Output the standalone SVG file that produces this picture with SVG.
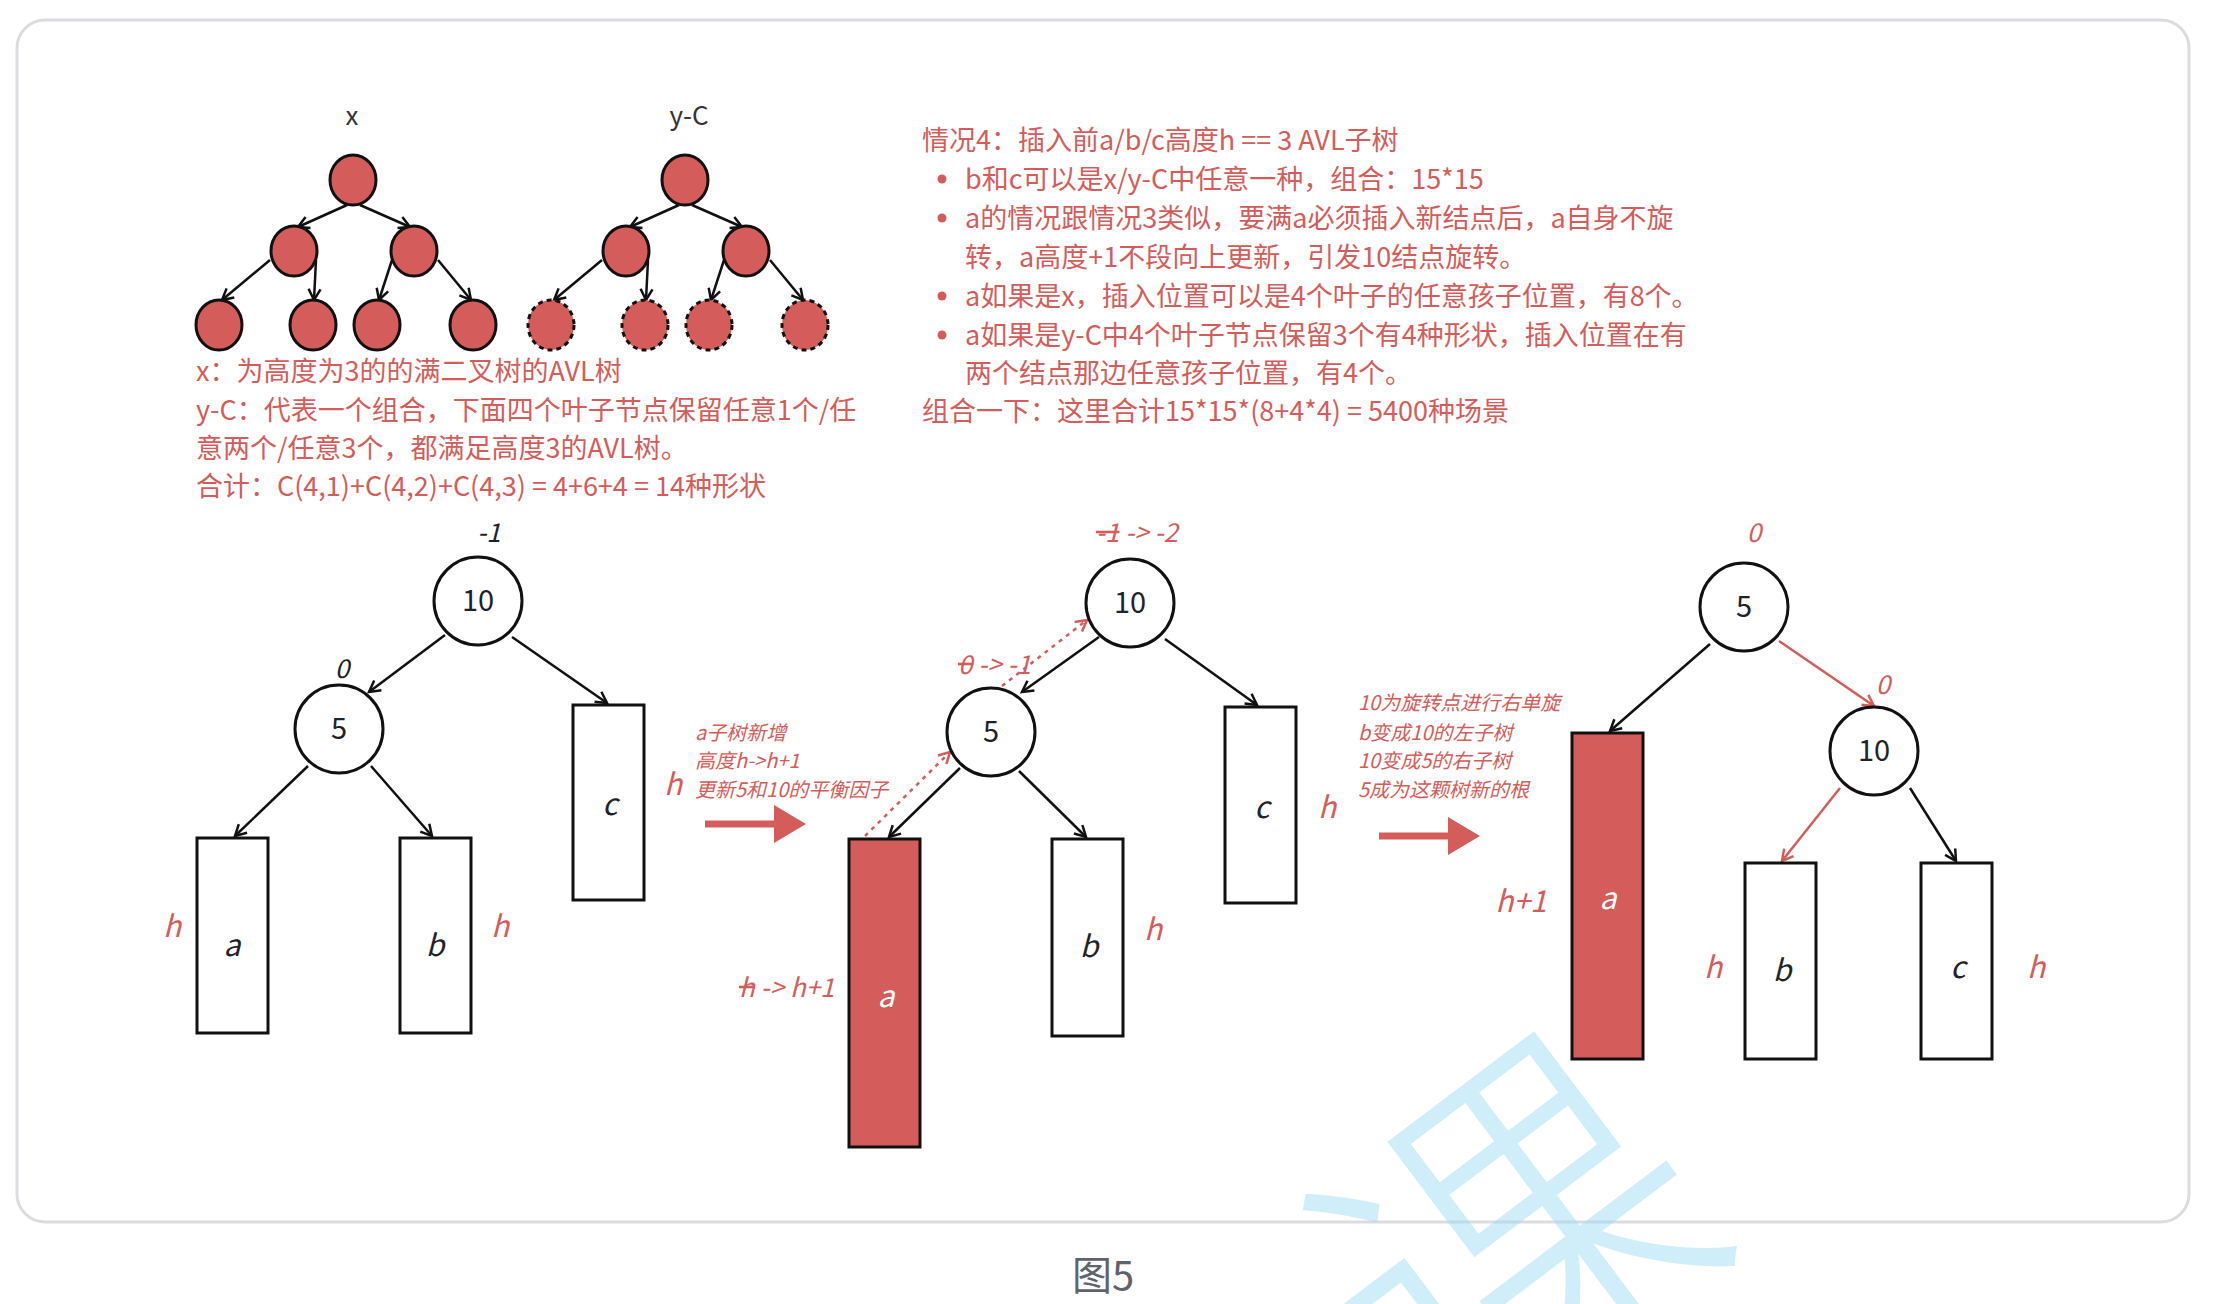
<svg xmlns="http://www.w3.org/2000/svg" width="2223" height="1304" viewBox="0 0 2223 1304">
<defs>
<style>
.t{font-family:"Noto Sans CJK SC","Noto Sans",sans-serif}
.red{fill:#d45c5a}
.dark{fill:#1f2329}
.para{font-size:27px}
.ann{font-size:20px;font-style:italic}
.lbl{font-size:30px;font-style:italic}
.num{font-size:29px}
.bf{font-size:26px;font-style:italic}
.node{fill:#fff;stroke:#111;stroke-width:3}
.leaf{fill:#d45c5a;stroke:#111;stroke-width:3}
.dleaf{fill:#d45c5a;stroke:#111;stroke-width:3;stroke-dasharray:5 4}
.box{fill:#fff;stroke:#111;stroke-width:3}
.rbox{fill:#d45c5a;stroke:#111;stroke-width:3}
.e{fill:none;stroke:#111;stroke-width:2.5;marker-end:url(#ah)}
.er{fill:none;stroke:#d45c5a;stroke-width:2.5;marker-end:url(#ahr)}
.ed{fill:none;stroke:#d45c5a;stroke-width:2.5;stroke-dasharray:4 5;marker-end:url(#ahr)}
.big{stroke:#d45c5a;stroke-width:7;fill:none}
</style>
<marker id="ah" markerUnits="userSpaceOnUse" markerWidth="16" markerHeight="16" refX="13" refY="8" orient="auto">
<path d="M2,2 L13,8 L2,14" fill="none" stroke="#111" stroke-width="2.5"/>
</marker>
<marker id="ahr" markerUnits="userSpaceOnUse" markerWidth="16" markerHeight="16" refX="13" refY="8" orient="auto">
<path d="M2,2 L13,8 L2,14" fill="none" stroke="#d45c5a" stroke-width="2.5"/>
</marker>
</defs>
<rect width="2223" height="1304" fill="#fff"/>
<rect x="17" y="20" width="2172" height="1202" rx="28" fill="#fff" stroke="#dcdce0" stroke-width="3"/>

<!-- top labels -->
<text class="t" x="352" y="125" font-size="26" fill="#333" text-anchor="middle">x</text>
<text class="t" x="689" y="125" font-size="26" fill="#333" text-anchor="middle">y-C</text>

<!-- connectors -->
<g id="connectors">
<line class="e" x1="347" y1="205" x2="298" y2="227"/>
<line class="e" x1="360" y1="205" x2="410" y2="227"/>
<line class="e" x1="270" y1="260" x2="222" y2="300"/>
<line class="e" x1="316" y1="260" x2="314" y2="300"/>
<line class="e" x1="392" y1="260" x2="379" y2="300"/>
<line class="e" x1="438" y1="260" x2="471" y2="300"/>
<line class="e" x1="679" y1="205" x2="630" y2="227"/>
<line class="e" x1="692" y1="205" x2="742" y2="227"/>
<line class="e" x1="602" y1="260" x2="554" y2="300"/>
<line class="e" x1="648" y1="260" x2="646" y2="300"/>
<line class="e" x1="724" y1="260" x2="711" y2="300"/>
<line class="e" x1="770" y1="260" x2="803" y2="300"/>

<line class="e" x1="445" y1="635" x2="369" y2="692"/>
<line class="e" x1="512" y1="637" x2="607" y2="703"/>
<line class="e" x1="308" y1="766" x2="235" y2="836"/>
<line class="e" x1="371" y1="766" x2="432" y2="836"/>

<line class="e" x1="1099" y1="637" x2="1022" y2="692"/>
<line class="e" x1="1165" y1="639" x2="1257" y2="705"/>
<line class="e" x1="960" y1="768" x2="889" y2="837"/>
<line class="e" x1="1019" y1="771" x2="1086" y2="837"/>
<line class="ed" x1="865" y1="836" x2="950" y2="752"/>
<line class="ed" x1="1002" y1="686" x2="1087" y2="620"/>

<line class="e" x1="1710" y1="644" x2="1610" y2="731"/>
<line class="er" x1="1779" y1="641" x2="1874" y2="706"/>
<line class="er" x1="1840" y1="788" x2="1782" y2="861"/>
<line class="e" x1="1910" y1="788" x2="1956" y2="861"/>

<line class="big" x1="705" y1="824" x2="778" y2="824"/>
<path d="M774,805 L806,824 L774,843 Z" fill="#d45c5a"/>
<line class="big" x1="1379" y1="836" x2="1452" y2="836"/>
<path d="M1448,817 L1480,836 L1448,855 Z" fill="#d45c5a"/>
</g>

<!-- top tree x -->
<g id="x-root"><ellipse class="leaf" cx="353" cy="180" rx="23" ry="25"/></g>
<g id="x-l"><ellipse class="leaf" cx="294" cy="251" rx="23" ry="25"/></g>
<g id="x-r"><ellipse class="leaf" cx="414" cy="251" rx="23" ry="25"/></g>
<g id="x-ll"><ellipse class="leaf" cx="219" cy="325" rx="23" ry="25"/></g>
<g id="x-lr"><ellipse class="leaf" cx="313" cy="325" rx="23" ry="25"/></g>
<g id="x-rl"><ellipse class="leaf" cx="377" cy="325" rx="23" ry="25"/></g>
<g id="x-rr"><ellipse class="leaf" cx="473" cy="325" rx="23" ry="25"/></g>
<!-- top tree y-C -->
<g id="y-root"><ellipse class="leaf" cx="685" cy="180" rx="23" ry="25"/></g>
<g id="y-l"><ellipse class="leaf" cx="626" cy="251" rx="23" ry="25"/></g>
<g id="y-r"><ellipse class="leaf" cx="746" cy="251" rx="23" ry="25"/></g>
<g id="y-ll"><ellipse class="dleaf" cx="551" cy="325" rx="23" ry="25"/></g>
<g id="y-lr"><ellipse class="dleaf" cx="645" cy="325" rx="23" ry="25"/></g>
<g id="y-rl"><ellipse class="dleaf" cx="709" cy="325" rx="23" ry="25"/></g>
<g id="y-rr"><ellipse class="dleaf" cx="805" cy="325" rx="23" ry="25"/></g>

<!-- left text -->
<g id="left-text" class="t para red">
<text x="196" y="381">x：为高度为3的的满二叉树的AVL树</text>
<text x="196" y="420">y-C：代表一个组合，下面四个叶子节点保留任意1个/任</text>
<text x="196" y="458">意两个/任意3个，都满足高度3的AVL树。</text>
<text x="196" y="496">合计：C(4,1)+C(4,2)+C(4,3) = 4+6+4 = 14种形状</text>
</g>

<!-- right text -->
<g id="right-text" class="t para red">
<text x="922" y="150">情况4：插入前a/b/c高度h == 3 AVL子树</text>
<circle cx="942" cy="179" r="4.5"/>
<text x="965" y="189">b和c可以是x/y-C中任意一种，组合：15*15</text>
<circle cx="942" cy="218" r="4.5"/>
<text x="965" y="228">a的情况跟情况3类似，要满a必须插入新结点后，a自身不旋</text>
<text x="965" y="267">转，a高度+1不段向上更新，引发10结点旋转。</text>
<circle cx="942" cy="296" r="4.5"/>
<text x="965" y="306">a如果是x，插入位置可以是4个叶子的任意孩子位置，有8个。</text>
<circle cx="942" cy="335" r="4.5"/>
<text x="965" y="345">a如果是y-C中4个叶子节点保留3个有4种形状，插入位置在有</text>
<text x="965" y="383">两个结点那边任意孩子位置，有4个。</text>
<text x="922" y="421">组合一下：这里合计15*15*(8+4*4) = 5400种场景</text>
</g>

<!-- tree 1 -->
<text class="t bf dark" x="489" y="542" text-anchor="middle">-1</text>
<g id="t1-n10"><circle class="node" cx="478" cy="601" r="44"/><text class="t num dark" x="478" y="611" text-anchor="middle">10</text></g>
<text class="t bf dark" x="342" y="678" text-anchor="middle">0</text>
<g id="t1-n5"><circle class="node" cx="339" cy="729" r="44"/><text class="t num dark" x="339" y="739" text-anchor="middle">5</text></g>
<g id="t1-a"><rect class="box" x="197" y="838" width="71" height="195"/><text class="t lbl dark" x="232" y="956" text-anchor="middle">a</text></g>
<g id="t1-b"><rect class="box" x="400" y="838" width="71" height="195"/><text class="t lbl dark" x="435" y="956" text-anchor="middle">b</text></g>
<g id="t1-c"><rect class="box" x="573" y="705" width="71" height="195"/><text class="t lbl dark" x="610" y="815" text-anchor="middle">c</text></g>
<text class="t lbl red" x="172" y="937" text-anchor="middle">h</text>
<text class="t lbl red" x="500" y="937" text-anchor="middle">h</text>
<text class="t lbl red" x="673" y="795" text-anchor="middle">h</text>

<g id="note1" class="t ann red">
<text x="695" y="740">a子树新增</text>
<text x="695" y="768">高度h-&gt;h+1</text>
<text x="695" y="797">更新5和10的平衡因子</text>
</g>

<!-- tree 2 -->
<text class="t bf red" x="1096" y="542"><tspan text-decoration="line-through">-1</tspan> -&gt; -2</text>
<g id="t2-n10"><circle class="node" cx="1130" cy="603" r="44"/><text class="t num dark" x="1130" y="613" text-anchor="middle">10</text></g>
<text class="t bf red" x="958" y="674"><tspan text-decoration="line-through">0</tspan> -&gt; -1</text>
<g id="t2-n5"><circle class="node" cx="991" cy="732" r="44"/><text class="t num dark" x="991" y="742" text-anchor="middle">5</text></g>
<g id="t2-a"><rect class="rbox" x="849" y="839" width="71" height="308"/><text class="t lbl" fill="#fff" x="886" y="1007" text-anchor="middle">a</text></g>
<g id="t2-b"><rect class="box" x="1052" y="839" width="71" height="197"/><text class="t lbl dark" x="1089" y="957" text-anchor="middle">b</text></g>
<g id="t2-c"><rect class="box" x="1225" y="707" width="71" height="196"/><text class="t lbl dark" x="1262" y="818" text-anchor="middle">c</text></g>
<text class="t bf red" x="739" y="997"><tspan text-decoration="line-through">h</tspan> -&gt; h+1</text>
<text class="t lbl red" x="1153" y="940" text-anchor="middle">h</text>
<text class="t lbl red" x="1327" y="818" text-anchor="middle">h</text>

<g id="note2" class="t ann red">
<text x="1358" y="710">10为旋转点进行右单旋</text>
<text x="1358" y="740">b变成10的左子树</text>
<text x="1358" y="768">10变成5的右子树</text>
<text x="1358" y="797">5成为这颗树新的根</text>
</g>

<!-- tree 3 -->
<text class="t bf red" x="1754" y="542" text-anchor="middle">0</text>
<g id="t3-n5"><circle class="node" cx="1744" cy="607" r="44"/><text class="t num dark" x="1744" y="617" text-anchor="middle">5</text></g>
<text class="t bf red" x="1883" y="694" text-anchor="middle">0</text>
<g id="t3-n10"><circle class="node" cx="1874" cy="751" r="44"/><text class="t num dark" x="1874" y="761" text-anchor="middle">10</text></g>
<g id="t3-a"><rect class="rbox" x="1572" y="733" width="71" height="326"/><text class="t lbl" fill="#fff" x="1608" y="909" text-anchor="middle">a</text></g>
<g id="t3-b"><rect class="box" x="1745" y="863" width="71" height="196"/><text class="t lbl dark" x="1782" y="981" text-anchor="middle">b</text></g>
<g id="t3-c"><rect class="box" x="1921" y="863" width="71" height="196"/><text class="t lbl dark" x="1958" y="978" text-anchor="middle">c</text></g>
<text class="t lbl red" x="1521" y="912" text-anchor="middle">h+1</text>
<text class="t lbl red" x="1713" y="978" text-anchor="middle">h</text>
<text class="t lbl red" x="2036" y="978" text-anchor="middle">h</text>

<text class="t" x="1103" y="1290" font-size="40" fill="#5f636b" text-anchor="middle">图5</text>

<text class="t" x="1500" y="1225" font-size="380" font-weight="300" fill="#96d7f5" fill-opacity="0.45" text-anchor="middle" dominant-baseline="central" transform="rotate(-37 1500 1225)">课</text>
</svg>
